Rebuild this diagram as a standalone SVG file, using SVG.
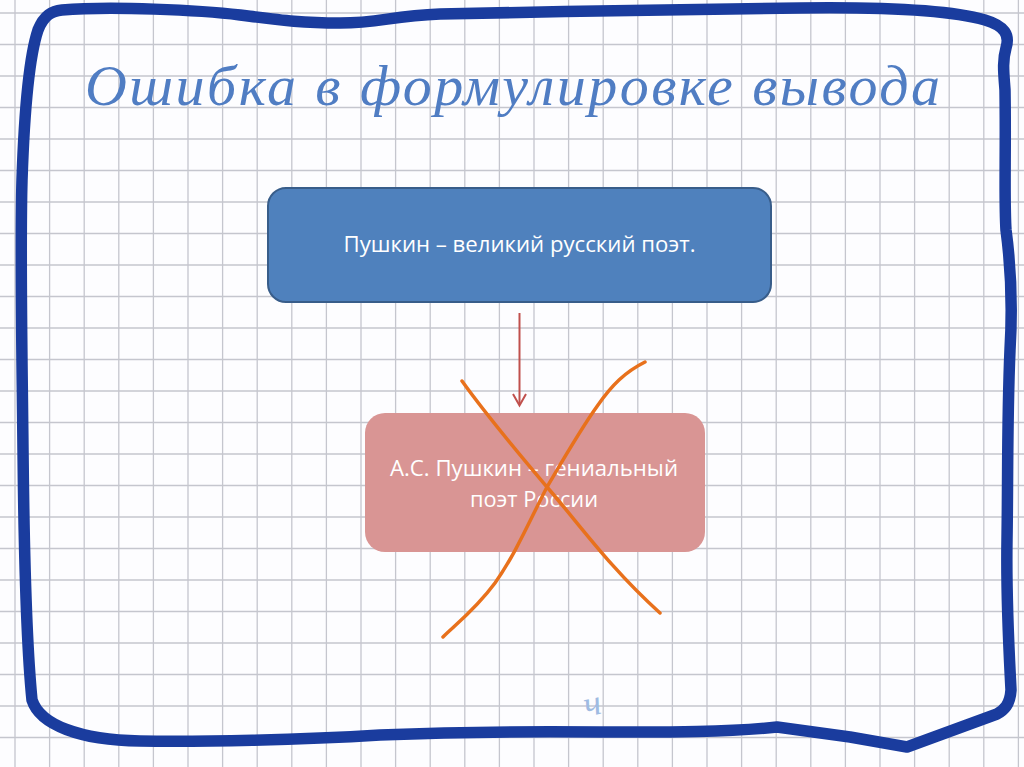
<svg xmlns="http://www.w3.org/2000/svg" width="1024" height="767" viewBox="0 0 1024 767">
  <style>
    .grid { fill: none; stroke: #c5c6ce; stroke-width: 1.3; }
    .border { fill: none; stroke: #1a3c9e; stroke-width: 11.5; stroke-linejoin: round; stroke-linecap: round; }
    .title { font-family: "Liberation Serif", "DejaVu Serif", serif; font-style: italic; font-size: 58px; fill: #507dc3; }
    .label { font-family: "Open Sans", "Noto Sans", "Liberation Sans", sans-serif; font-size: 21px; fill: #ffffff; text-anchor: middle; }
    .cross { fill: none; stroke: #e8711c; stroke-width: 3.5; stroke-linecap: round; stroke-linejoin: round; }
    .conn { fill: none; stroke: #c0504d; stroke-width: 2; }
  </style>
  <rect x="0" y="0" width="1024" height="767" fill="#fdfdff"/>
  <path class="grid" d="M15,0V767M49.6,0V767M84.2,0V767M118.8,0V767M153.4,0V767M188,0V767M222.6,0V767M257.2,0V767M291.8,0V767M326.4,0V767M361,0V767M395.6,0V767M430.2,0V767M464.8,0V767M499.4,0V767M534,0V767M568.6,0V767M603.2,0V767M637.8,0V767M672.4,0V767M707,0V767M741.6,0V767M776.2,0V767M810.8,0V767M845.4,0V767M880,0V767M914.6,0V767M949.2,0V767M983.8,0V767M1018.4,0V767
M0,13H1024M0,44.5H1024M0,76H1024M0,107.5H1024M0,139H1024M0,170.5H1024M0,202H1024M0,233.5H1024M0,265H1024M0,296.5H1024M0,328H1024M0,359.5H1024M0,391H1024M0,422.5H1024M0,454H1024M0,485.5H1024M0,517H1024M0,548.5H1024M0,580H1024M0,611.5H1024M0,643H1024M0,674.5H1024M0,706H1024M0,737.5H1024"/>
  <path id="frame" class="border" d="M62,10 C110,6 200,10 240,15 C280,20 300,23 340,23 C380,23 390,16 440,14 C560,11 700,10 800,8 C880,7 950,10 985,20 C1005,26 1010,35 1006,48 C1002,62 1004,75 1005,90 C1006,150 1004,200 1006,230 C1010,260 1013,300 1010,350 C1007,420 1008,480 1007,540 C1006,600 1009,650 1011,690 C1010,705 1004,710 997,714 L907,747 L850,737 L777,727 C720,733 650,732 600,732 C500,731 430,733 380,735 C300,740 200,742 140,741 C80,740 40,725 32,700 C27,650 24,550 23,450 C22,350 20,250 22,180 C24,120 28,60 38,30 C44,15 52,11 62,10 Z"/>
  <text id="title" class="title" x="85" y="105" textLength="855" lengthAdjust="spacing">Ошибка в формулировке вывода</text>
  <g id="connectors">
    <line class="conn" x1="519.5" y1="313" x2="519.5" y2="405"/>
    <path class="conn" d="M513,394 L519.5,405.5 L526,394"/>
  </g>
  <g id="node-top">
    <rect x="268" y="188" width="503" height="114" rx="18" fill="#4f81bd" stroke="#385d8a" stroke-width="2"/>
    <text class="label" x="519.5" y="252" textLength="352" lengthAdjust="spacingAndGlyphs">Пушкин – великий русский поэт.</text>
  </g>
  <g id="node-bottom">
    <rect x="365" y="413" width="340" height="139" rx="20" fill="#d99594"/>
    <text class="label" x="534" y="476" textLength="288" lengthAdjust="spacingAndGlyphs">А.С. Пушкин – гениальный</text>
    <text class="label" x="534" y="507" textLength="128" lengthAdjust="spacingAndGlyphs">поэт России</text>
  </g>
  <g id="cross">
    <path class="cross" d="M462,381 C490,420 520,455 547,487 C580,525 610,568 660,613"/>
    <path class="cross" d="M645,362 C625,372 612,385 598,405 C580,430 560,465 547,487 C530,520 515,555 495,583 C475,610 455,625 443,637"/>
  </g>
  <text x="584" y="714" font-family="Liberation Serif, serif" font-style="italic" font-size="36" fill="#9fbbe2" transform="rotate(-12 598 705)">ч</text>
</svg>
